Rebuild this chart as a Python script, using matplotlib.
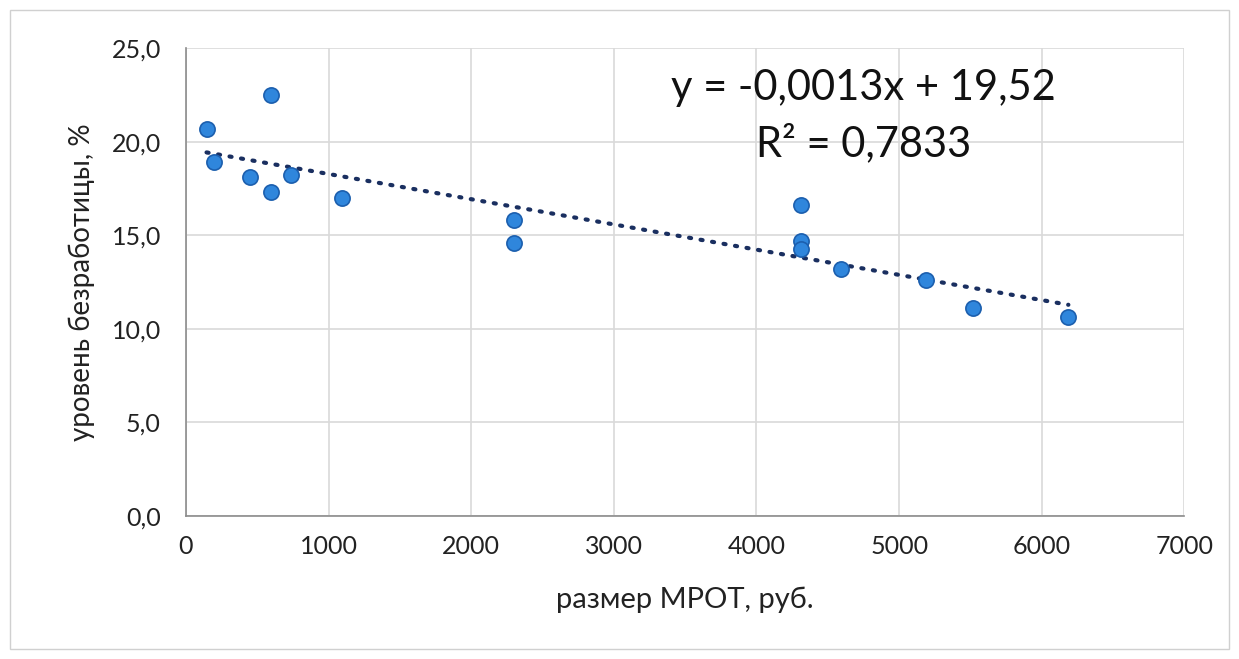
import numpy as np
import matplotlib
matplotlib.use("Agg")
import matplotlib.pyplot as plt
from matplotlib.ticker import FuncFormatter, MultipleLocator
from matplotlib.patches import Rectangle

plt.rcParams['font.family'] = ['Lato', 'DejaVu Sans']

# размер МРОТ, руб. и уровень безработицы, %
mrot = [145, 600, 198, 448, 600, 736, 1098, 2301, 2301, 4314, 4314, 4314, 4595, 5186, 5520, 6186]
unemp = [20.7, 22.5, 18.9, 18.1, 17.3, 18.2, 17.0, 15.8, 14.6, 16.6, 14.7, 14.25, 13.2, 12.6, 11.1, 10.65]

eq_text = "y = -0,0013x + 19,52"
r2_text = "R² = 0,7833"

fig = plt.figure(figsize=(12.39, 6.59), dpi=100)
ax = fig.add_axes([0.150, 0.217, 0.806, 0.710])

# линия тренда
k, b = np.polyfit(mrot, unemp, 1)
xs = np.array([min(mrot), max(mrot)])
ax.plot(xs, k * xs + b, color='#1a2f60', linestyle=(0, (0.5, 2.3)), linewidth=3.0,
        dash_capstyle='round', zorder=2)

ax.scatter(mrot, unemp, s=120, color='#2f86dc', edgecolors='#1c5fae', linewidths=1.2, zorder=3)

ax.set_xlim(0, 7000)
ax.set_ylim(0, 25)
ax.xaxis.set_major_locator(MultipleLocator(1000))
ax.yaxis.set_major_locator(MultipleLocator(5))
ax.yaxis.set_major_formatter(FuncFormatter(lambda v, p: f"{v:.1f}".replace('.', ',')))

ax.grid(True, color='#d9d9d9', linewidth=1.2)
ax.set_axisbelow(True)
for s in ['top', 'right']:
    ax.spines[s].set_visible(False)
for s in ['left', 'bottom']:
    ax.spines[s].set_color('#8c8c8c')
    ax.spines[s].set_linewidth(1.2)
ax.tick_params(length=0, labelsize=18, colors='#222222')
ax.tick_params(axis='y', pad=18)
ax.tick_params(axis='x', pad=14)

ax.set_xlabel("размер МРОТ, руб.", fontsize=21, color='#222222', labelpad=20)
ax.set_ylabel("уровень безработицы, %", fontsize=20, color='#222222', labelpad=12)

fig.text(0.697, 0.866, eq_text, fontsize=30, ha='center', va='center', color='#111111')
fig.text(0.697, 0.782, r2_text, fontsize=30, ha='center', va='center', color='#111111')

fig.patches.append(Rectangle((0.008, 0.015), 0.984, 0.97, transform=fig.transFigure,
                             fill=False, edgecolor='#d0d0d0', linewidth=1))

fig.savefig("out.png", dpi=100)
